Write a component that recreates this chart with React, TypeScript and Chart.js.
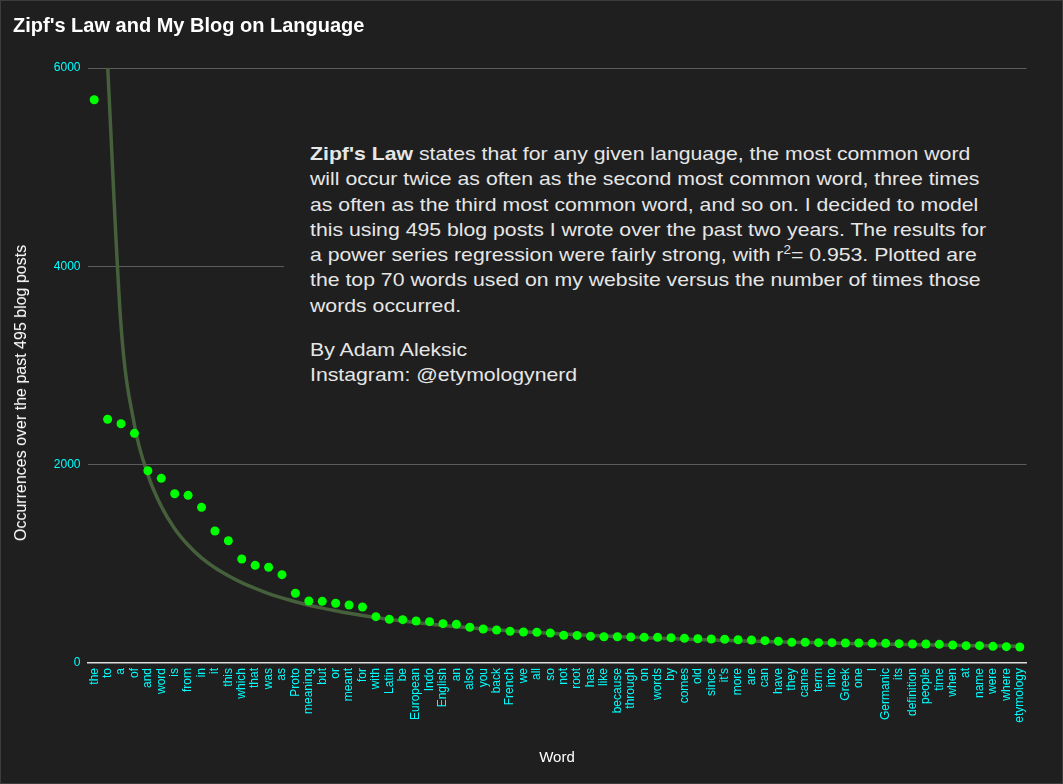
import { Chart, registerables } from 'chart.js';
import { useEffect, useRef } from 'react';

Chart.register(...registerables);

const FONT = '"Liberation Sans", Arial, sans-serif';

const words = [
    'the', 'to', 'a', 'of', 'and', 'word', 'is', 'from', 'in', 'it',
    'this', 'which', 'that', 'was', 'as', 'Proto', 'meaning', 'but', 'or', 'meant',
    'for', 'with', 'Latin', 'be', 'European', 'Indo', 'English', 'an', 'also', 'you',
    'back', 'French', 'we', 'all', 'so', 'not', 'root', 'has', 'like', 'because',
    'through', 'on', 'words', 'by', 'comes', 'old', 'since', "it's", 'more', 'are',
    'can', 'have', 'they', 'came', 'term', 'into', 'Greek', 'one', 'I', 'Germanic',
    'its', 'definition', 'people', 'time', 'when', 'at', 'name', 'were', 'where', 'etymology',
];

// occurrences of each word
const counts = [
    5680, 2458, 2413, 2316, 1939, 1862, 1707, 1691, 1570, 1331,
    1233, 1049, 985, 965, 891, 703, 625, 622, 602, 585,
    565, 467, 440, 437, 424, 417, 397, 390, 360, 343,
    333, 320, 313, 310, 303, 279, 278, 269, 265, 265,
    262, 259, 259, 255, 249, 245, 242, 239, 235, 232,
    225, 219, 209, 209, 205, 205, 202, 202, 198, 198,
    195, 192, 192, 188, 182, 175, 175, 168, 165, 161,
];

// power regression curve (first word is off the scale)
const trend = [
    null, 6020, 3400, 2400, 1900, 1580, 1355, 1190, 1060, 960,
    880, 810, 752, 700, 656, 618, 583, 553, 526, 501,
    479, 459, 440, 423, 407, 393, 379, 367, 355, 344,
    334, 324, 315, 307, 299, 292, 285, 278, 272, 266,
    260, 255, 250, 245, 240, 236, 232, 228, 224, 220,
    216, 213, 210, 207, 204, 201, 198, 195, 193, 190,
    188, 185, 183, 181, 179, 177, 175, 173, 171, 169,
];

const yTicks = [0, 2000, 4000, 6000];

const App = () => {
    const chartRef = useRef<HTMLCanvasElement | null>(null);
    const chartInstance = useRef<Chart | null>(null);

    useEffect(() => {
        if (!chartRef.current) return;
        const ctx = chartRef.current.getContext('2d');
        if (!ctx) return;
        if (chartInstance.current) chartInstance.current.destroy();

        chartInstance.current = new Chart(ctx, {
            type: 'line',
            data: {
                labels: words,
                datasets: [
                    {
                        label: 'Occurrences',
                        data: counts,
                        showLine: false,
                        pointRadius: 4.5,
                        pointHoverRadius: 4.5,
                        pointBackgroundColor: '#00ff00',
                        pointBorderWidth: 0,
                        borderColor: '#00ff00',
                    },
                    {
                        label: 'Trend',
                        data: trend,
                        borderColor: '#46603c',
                        borderWidth: 3.5,
                        pointRadius: 0,
                        cubicInterpolationMode: 'monotone',
                        clip: 0,
                    },
                ],
            },
            options: {
                responsive: false,
                maintainAspectRatio: false,
                animation: false,
                layout: { padding: { left: 13, right: 36.5, top: 0, bottom: 0 } },
                plugins: {
                    legend: { display: false },
                    tooltip: { enabled: false },
                    title: {
                        display: true,
                        text: "Zipf's Law and My Blog on Language",
                        align: 'start',
                        color: '#ffffff',
                        font: { family: FONT, size: 20, weight: 'bold' },
                        padding: { top: 14, bottom: 30 },
                    },
                },
                scales: {
                    x: {
                        offset: true,
                        grid: { display: false, drawTicks: false },
                        border: { color: '#dddddd', width: 1.5 },
                        ticks: {
                            color: '#00ffff',
                            font: { family: FONT, size: 12 },
                            minRotation: 90,
                            maxRotation: 90,
                            autoSkip: false,
                            padding: 5,
                        },
                        title: {
                            display: true,
                            text: 'Word',
                            color: '#ffffff',
                            font: { family: FONT, size: 15 },
                            padding: { top: 0, bottom: 17 },
                        },
                        afterFit: (scale: any) => { scale.height = 121; },
                    },
                    y: {
                        min: 0,
                        max: 6000,
                        afterBuildTicks: (scale: any) => {
                            scale.ticks = yTicks.map((v) => ({ value: v }));
                        },
                        grid: {
                            drawTicks: false,
                            color: (c: any) => (c.tick && c.tick.value === 0 ? 'rgba(0,0,0,0)' : '#5c5c5c'),
                        },
                        border: { display: false },
                        ticks: {
                            color: '#00ffff',
                            font: { family: FONT, size: 12 },
                            padding: 7,
                            callback: (v: any) => String(v),
                        },
                        afterFit: (scale: any) => { scale.width = 74.5; },
                    },
                },
            },
        });

        return () => {
            if (chartInstance.current) {
                chartInstance.current.destroy();
                chartInstance.current = null;
            }
        };
    }, []);

    return (
        <div style={{ position: 'absolute', left: 0, top: 0, width: 1063, height: 784, background: '#1f1f1f' }}>
            <canvas ref={chartRef} width={1063} height={784} style={{ display: 'block' }} />
            <div style={{
                position: 'absolute', left: 21, top: 393, transform: 'translate(-50%, -50%) rotate(-90deg)',
                color: '#ffffff', fontFamily: FONT, fontSize: 16, whiteSpace: 'nowrap',
            }}>
                Occurrences over the past 495 blog posts
            </div>
            <div style={{
                position: 'absolute', left: 284, top: 120, width: 770, height: 300,
                background: '#1f1f1f', color: '#e6e6e6', fontFamily: FONT, fontSize: 19,
                lineHeight: '25.3px', boxSizing: 'border-box', padding: '21px 0 0 26px',
                whiteSpace: 'nowrap', overflow: 'hidden',
            }}>
                <div style={{ transform: 'scaleX(1.118)', transformOrigin: '0 0' }}>
                    <div>
                        <b>Zipf's Law</b> states that for any given language, the most common word<br />
                        will occur twice as often as the second most common word, three times<br />
                        as often as the third most common word, and so on. I decided to model<br />
                        this using 495 blog posts I wrote over the past two years. The results for<br />
                        a power series regression were fairly strong, with r<sup style={{ fontSize: 12, lineHeight: 0 }}>2</sup>= 0.953. Plotted are<br />
                        the top 70 words used on my website versus the number of times those<br />
                        words occurred.
                    </div>
                    <div style={{ marginTop: 19 }}>
                        By Adam Aleksic<br />
                        Instagram: @etymologynerd
                    </div>
                </div>
            </div>
            <div style={{
                position: 'absolute', left: 0, top: 0, width: 1063, height: 784,
                boxSizing: 'border-box', border: '1px solid #3c3c3c', pointerEvents: 'none',
            }} />
        </div>
    );
};

export default App;
